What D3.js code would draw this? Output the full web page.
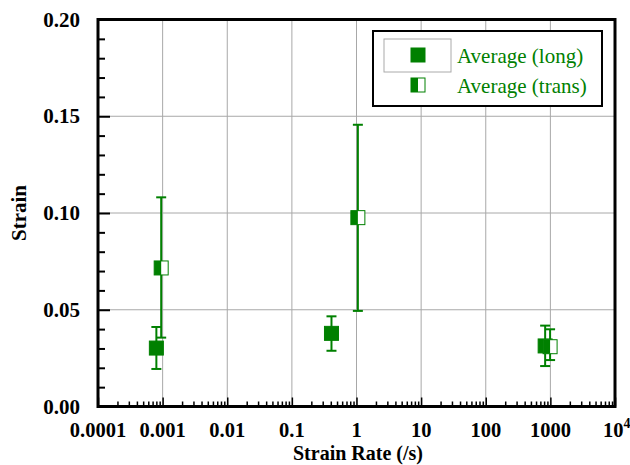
<!DOCTYPE html>
<html><head><meta charset="utf-8">
<script src="https://cdn.jsdelivr.net/npm/d3@7"></script>
<style>body{margin:0;background:#fff}svg{display:block}</style>
</head><body>
<svg id="c" width="630" height="465"></svg>
<script>
// Data
const seriesNames = ["Average (long)", "Average (trans)"];
const longRate  = [0.0008, 0.41, 830];
const longMean  = [0.0302, 0.0378, 0.0313];
const longHi    = [0.0411, 0.0466, 0.0418];
const longLo    = [0.0194, 0.0288, 0.0209];
const transRate = [0.00095, 1.05, 990];
const transMean = [0.0716, 0.0976, 0.0309];
const transHi   = [0.1081, 0.1456, 0.0399];
const transLo   = [0.0356, 0.0494, 0.0240];
const xTickVals = [1e-4, 1e-3, 1e-2, 1e-1, 1, 10, 100, 1000, 1e4];
const xTickLabels = ["0.0001","0.001","0.01","0.1","1","10","100","1000","10^4"];
const yTickVals = [0, 0.05, 0.10, 0.15, 0.20];

const green = "#008000";
const svg = d3.select("#c");
const L = 98, R = 615, T = 19.5, B = 406.5;
const x = d3.scaleLog().domain([1e-4, 1e4]).range([L, R]);
const y = d3.scaleLinear().domain([0, 0.2]).range([B, T]);
const serif = "'Liberation Serif','Times New Roman',serif";

// grid
const g = svg.append("g");
g.selectAll("line.vx").data(xTickVals.slice(1, -1)).join("line")
  .attr("x1", d => x(d)).attr("x2", d => x(d)).attr("y1", T).attr("y2", B)
  .attr("stroke", "#a8a8a8").attr("stroke-width", 1);
g.selectAll("line.hy").data(yTickVals.slice(1, -1)).join("line")
  .attr("x1", L).attr("x2", R).attr("y1", d => y(d)).attr("y2", d => y(d))
  .attr("stroke", "#a8a8a8").attr("stroke-width", 1);

// axes ticks (inward)
const yMinor = d3.range(0, 0.2001, 0.01).filter(v => Math.abs(v / 0.05 - Math.round(v / 0.05)) > 1e-6);
const yAxisMajor = d3.axisRight(y).tickValues(yTickVals).tickSize(12).tickFormat("");
const yAxisMinor = d3.axisRight(y).tickValues(yMinor).tickSize(7).tickFormat("");
[yAxisMajor, yAxisMinor].forEach(a => {
  const ga = svg.append("g").attr("transform", `translate(${L},0)`).call(a);
  ga.select(".domain").remove();
  ga.selectAll("line").attr("stroke", "#000").attr("stroke-width", 2);
});
const xMinor = [];
for (let e = -4; e < 4; e++) for (let m = 2; m <= 9; m++) xMinor.push(m * Math.pow(10, e));
const xAxisMajor = d3.axisTop(x).tickValues(xTickVals).tickSize(9).tickFormat("");
const xAxisMinor = d3.axisTop(x).tickValues(xMinor).tickSize(5).tickFormat("");
[xAxisMajor, xAxisMinor].forEach(a => {
  const ga = svg.append("g").attr("transform", `translate(0,${B})`).call(a);
  ga.select(".domain").remove();
  ga.selectAll("line").attr("stroke", "#000").attr("stroke-width", 1.5);
});

// frame
svg.append("rect").attr("x", L).attr("y", T).attr("width", R - L).attr("height", B - T)
  .attr("fill", "none").attr("stroke", "#000").attr("stroke-width", 3);

// tick labels
svg.selectAll("text.yl").data(yTickVals).join("text")
  .attr("x", 80).attr("y", d => y(d) + 7).attr("text-anchor", "end")
  .attr("font-family", serif).attr("font-weight", "bold").attr("font-size", 21)
  .text(d => d3.format(".2f")(d));
const xl = svg.selectAll("text.xl").data(xTickVals).join("text")
  .attr("x", d => x(d)).attr("y", 437).attr("text-anchor", "middle")
  .attr("font-family", serif).attr("font-weight", "bold").attr("font-size", 20.5);
xl.each(function (d, i) {
  const t = d3.select(this);
  const lab = xTickLabels[i];
  if (lab.includes("^")) {
    const [b, p] = lab.split("^");
    t.append("tspan").text(b);
    t.append("tspan").attr("dy", -9).attr("font-size", 14).text(p);
    t.attr("text-anchor", "start").attr("x", x(d) - 12);
  } else t.text(lab);
});

// axis titles
svg.append("text").attr("x", 358).attr("y", 460).attr("text-anchor", "middle")
  .attr("font-family", serif).attr("font-weight", "bold").attr("font-size", 20).text("Strain Rate (/s)");
svg.append("text").attr("transform", "translate(26,213) rotate(-90)").attr("text-anchor", "middle")
  .attr("font-family", serif).attr("font-weight", "bold").attr("font-size", 21).text("Strain");

// error bars
function errBars(rate, hi, lo) {
  const eg = svg.append("g").attr("stroke", green).attr("stroke-width", 2);
  rate.forEach((r, i) => {
    const cx = x(r);
    eg.append("line").attr("x1", cx).attr("x2", cx).attr("y1", y(hi[i])).attr("y2", y(lo[i]));
    [hi[i], lo[i]].forEach(v => eg.append("line").attr("x1", cx - 5).attr("x2", cx + 5).attr("y1", y(v)).attr("y2", y(v)));
  });
}
errBars(longRate, longHi, longLo);
errBars(transRate, transHi, transLo);

const S = 14;
function fullSq(sel, cx, cy) {
  sel.append("rect").attr("x", cx - S / 2).attr("y", cy - S / 2).attr("width", S).attr("height", S)
    .attr("fill", green).attr("stroke", green).attr("stroke-width", 1);
}
function halfSq(sel, cx, cy) {
  sel.append("rect").attr("x", cx - S / 2).attr("y", cy - S / 2).attr("width", S).attr("height", S)
    .attr("fill", "#fff").attr("stroke", green).attr("stroke-width", 1);
  sel.append("rect").attr("x", cx - S / 2).attr("y", cy - S / 2).attr("width", S / 2).attr("height", S)
    .attr("fill", green);
}
const mg = svg.append("g");
longRate.forEach((r, i) => fullSq(mg, x(r), y(longMean[i])));
transRate.forEach((r, i) => halfSq(mg, x(r), y(transMean[i])));

// legend
const lg = svg.append("g");
lg.append("rect").attr("x", 373).attr("y", 31).attr("width", 229).attr("height", 75)
  .attr("fill", "#fff").attr("stroke", "#000").attr("stroke-width", 2);
lg.append("rect").attr("x", 384).attr("y", 39).attr("width", 67).attr("height", 33)
  .attr("fill", "none").attr("stroke", "#aaa").attr("stroke-width", 1);
fullSq(lg, 418, 55);
halfSq(lg, 418, 85);
lg.selectAll("text").data(seriesNames).join("text")
  .attr("x", 457).attr("y", (d, i) => 63 + i * 30)
  .attr("font-family", serif).attr("font-size", 21).attr("fill", green).text(d => d);
</script>
</body></html>
